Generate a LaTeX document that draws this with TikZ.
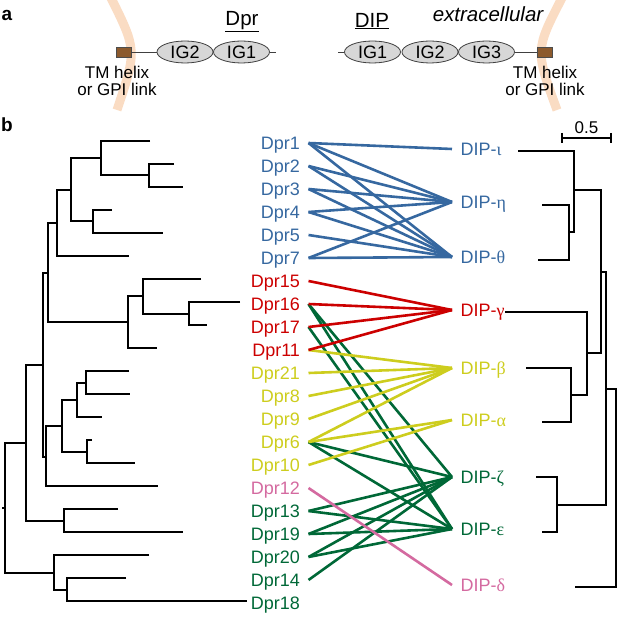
\documentclass[tikz,border=0pt]{standalone}
\usepackage{fontspec}
\setmainfont{Liberation Sans}
\newfontfamily\grk{Liberation Serif}
\usetikzlibrary{shapes.geometric}
\definecolor{cblue}{RGB}{54,104,160}
\definecolor{cred}{RGB}{204,0,0}
\definecolor{cyel}{RGB}{205,205,30}
\definecolor{cpink}{RGB}{212,106,160}
\definecolor{cgreen}{RGB}{0,104,55}
\definecolor{peach}{RGB}{250,220,195}
\definecolor{tmbrown}{RGB}{140,90,45}
\definecolor{iggray}{RGB}{215,215,215}
\begin{document}
\begin{tikzpicture}[x=1pt,y=-1pt,
  lab/.style={font=\fontsize{18}{20}\selectfont, text height=12.9pt, text depth=0pt,
              inner xsep=4.5pt, outer xsep=4pt, inner ysep=0pt, outer ysep=0pt},
  dprlab/.style={lab, anchor=east},
  diplab/.style={lab, anchor=west},
  conn/.style={line width=2.6pt},
  tree/.style={line width=2pt},
  igell/.style={ellipse, draw=black!75, line width=0.8pt, fill=iggray, minimum width=56pt,
                minimum height=22pt, inner sep=0pt, font=\fontsize{18}{20}\selectfont},
  tmbox/.style={draw=black!70, line width=0.8pt, fill=tmbrown, minimum width=15pt, minimum height=10pt, inner sep=0pt},
  small/.style={font=\fontsize{17}{17}\selectfont, inner sep=0pt, align=center},
  title/.style={font=\fontsize{20.5}{22}\selectfont, inner sep=0pt},
  panel/.style={font=\fontsize{19}{20}\selectfont\bfseries, inner sep=0pt}
]
\useasboundingbox (0,0) rectangle (617,617);

% ---------------- panel a ----------------
\node[panel] (pa) at (7,15) {a};
\draw[peach, line width=9pt] (110,-4) .. controls (137,50) .. (117,110);
\draw[peach, line width=9pt] (563,-4) .. controls (535,50) .. (557,110);

\node[tmbox] (tm1) at (123.5,52) {};
\node[igell] (lig2) at (185,52) {IG2};
\node[igell] (lig1) at (241.5,52) {IG1};
\coordinate (le) at (276,52);
\draw[line width=0.9pt, black!75] (tm1) -- (lig2);
\draw[line width=0.9pt, black!75] (lig1) -- (le);
\node[title] (tdpr) at (242,22) {\underline{Dpr}};
\node[small] (tml1) at (117,72) {TM helix};
\node[small] (tml2) at (117,89) {or GPI link};

\node[igell] (rig1) at (372.5,52) {IG1};
\node[igell] (rig2) at (430,52) {IG2};
\node[igell] (rig3) at (486.5,52) {IG3};
\node[tmbox] (tm2) at (545,52) {};
\coordinate (re) at (338,52);
\draw[line width=0.9pt, black!75] (re) -- (rig1);
\draw[line width=0.9pt, black!75] (rig3) -- (tm2);
\node[title] (tdip) at (372,21) {\underline{DIP}};
\node[title] (tex) at (488,14) {\itshape extracellular};
\node[small] (tmr1) at (545,72) {TM helix};
\node[small] (tmr2) at (545,89) {or GPI link};

% ---------------- panel b ----------------
\node[panel] (pb) at (7,125) {b};

% Dpr labels
\node[dprlab, text=cblue] (d1)  at (308.5,143) {Dpr1};
\node[dprlab, text=cblue] (d2)  at (308.5,166) {Dpr2};
\node[dprlab, text=cblue] (d3)  at (308.5,189) {Dpr3};
\node[dprlab, text=cblue] (d4)  at (308.5,212) {Dpr4};
\node[dprlab, text=cblue] (d5)  at (308.5,235) {Dpr5};
\node[dprlab, text=cblue] (d7)  at (308.5,258) {Dpr7};
\node[dprlab, text=cred]  (d15) at (308.5,281) {Dpr15};
\node[dprlab, text=cred]  (d16) at (308.5,304) {Dpr16};
\node[dprlab, text=cred]  (d17) at (308.5,327) {Dpr17};
\node[dprlab, text=cred]  (d11) at (308.5,350) {Dpr11};
\node[dprlab, text=cyel]  (d21) at (308.5,373) {Dpr21};
\node[dprlab, text=cyel]  (d8)  at (308.5,396) {Dpr8};
\node[dprlab, text=cyel]  (d9)  at (308.5,419) {Dpr9};
\node[dprlab, text=cyel]  (d6)  at (308.5,442) {Dpr6};
\node[dprlab, text=cyel]  (d10) at (308.5,465) {Dpr10};
\node[dprlab, text=cpink] (d12) at (308.5,488) {Dpr12};
\node[dprlab, text=cgreen] (d13) at (308.5,511) {Dpr13};
\node[dprlab, text=cgreen] (d19) at (308.5,534) {Dpr19};
\node[dprlab, text=cgreen] (d20) at (308.5,557) {Dpr20};
\node[dprlab, text=cgreen] (d14) at (308.5,580) {Dpr14};
\node[dprlab, text=cgreen] (d18) at (308.5,603) {Dpr18};

% DIP labels
\node[diplab, text=cblue]  (iota)  at (452,149) {DIP-{\grk ι}};
\node[diplab, text=cblue]  (eta)   at (452,202) {DIP-{\grk η}};
\node[diplab, text=cblue]  (theta) at (452,257) {DIP-{\grk θ}};
\node[diplab, text=cred]   (gam)   at (452,310) {DIP-{\grk γ}};
\node[diplab, text=cyel]   (bet)   at (452,368) {DIP-{\grk β}};
\node[diplab, text=cyel]   (alp)   at (452,420) {DIP-{\grk α}};
\node[diplab, text=cgreen] (zet)   at (452,477) {DIP-{\grk ζ}};
\node[diplab, text=cgreen] (eps)   at (452,529) {DIP-{\grk ε}};
\node[diplab, text=cpink]  (del)   at (452,585) {DIP-{\grk δ}};

% connectors
\begin{scope}[conn, cgreen]
\draw (d16.east) -- (zet.west);
\draw (d16.east) -- (eps.west);
\draw (d17.east) -- (eps.west);
\draw (d6.east) -- (zet.west);
\draw (d6.east) -- (eps.west);
\draw (d13.east) -- (zet.west);
\draw (d13.east) -- (eps.west);
\draw (d19.east) -- (zet.west);
\draw (d19.east) -- (eps.west);
\draw (d20.east) -- (zet.west);
\draw (d20.east) -- (eps.west);
\draw (d14.east) -- (zet.west);
\end{scope}
\begin{scope}[conn, cyel]
\draw (d11.east) -- (bet.west);
\draw (d21.east) -- (bet.west);
\draw (d8.east) -- (bet.west);
\draw (d9.east) -- (bet.west);
\draw (d6.east) -- (bet.west);
\draw (d6.east) -- (alp.west);
\draw (d10.east) -- (alp.west);
\end{scope}
\begin{scope}[conn, cred]
\draw (d15.east) -- (gam.west);
\draw (d16.east) -- (gam.west);
\draw (d17.east) -- (gam.west);
\draw (d11.east) -- (gam.west);
\end{scope}
\begin{scope}[conn, cblue]
\draw (d1.east) -- (iota.west);
\draw (d1.east) -- (eta.west);
\draw (d1.east) -- (theta.west);
\draw (d2.east) -- (eta.west);
\draw (d2.east) -- (theta.west);
\draw (d3.east) -- (eta.west);
\draw (d3.east) -- (theta.west);
\draw (d4.east) -- (eta.west);
\draw (d4.east) -- (theta.west);
\draw (d5.east) -- (theta.west);
\draw (d7.east) -- (eta.west);
\draw (d7.east) -- (theta.west);
\end{scope}
\draw[conn, cpink] (d12.east) -- (del.west);

% left tree
\begin{scope}[tree]
\draw (150,141) -- (101,141) -- (101,175.5) -- (149,175.5);
\draw (174,164) -- (149,164) -- (149,187) -- (183,187);
\draw (101,158) -- (71,158) -- (71,221.5) -- (93,221.5);
\draw (112,210) -- (93,210) -- (93,233) -- (163,233);
\draw (71,190) -- (57,190) -- (57,256) -- (129,256);
\draw (240,302) -- (189,302) -- (189,325) -- (207,325);
\draw (201,279) -- (143,279) -- (143,313.5) -- (189,313.5);
\draw (143,296) -- (128,296) -- (128,348) -- (157,348);
\draw (57,223) -- (48,223) -- (48,322) -- (128,322);
\draw (48,272.5) -- (43,272.5) -- (43,457) -- (46,457);
\draw (129,371) -- (86,371) -- (86,394) -- (130,394);
\draw (86,382.5) -- (77,382.5) -- (77,417) -- (102,417);
\draw (92,440) -- (87,440) -- (87,463) -- (135,463);
\draw (77,400) -- (62,400) -- (62,451.5) -- (87,451.5);
\draw (62,426) -- (46,426) -- (46,486) -- (158,486);
\draw (43,365) -- (26,365) -- (26,520.5) -- (64,520.5);
\draw (118,509) -- (64,509) -- (64,532) -- (183,532);
\draw (26,443) -- (5,443) -- (5,573) -- (54,573);
\draw (149,555) -- (54,555) -- (54,590) -- (67,590);
\draw (126,578) -- (67,578) -- (67,601) -- (247,601);
\draw (5,508) -- (2,508);
\end{scope}

% right tree
\begin{scope}[tree]
\draw (518,151) -- (574,151) -- (574,232) -- (569,232);
\draw (542,205) -- (569,205) -- (569,260) -- (538,260);
\draw (574,190) -- (601,190) -- (601,353) -- (587,353);
\draw (505,312) -- (587,312) -- (587,395) -- (571,395);
\draw (526,368) -- (571,368) -- (571,422) -- (542,422);
\draw (601,272) -- (606,272) -- (606,505) -- (557,505);
\draw (536,477) -- (557,477) -- (557,532) -- (542,532);
\draw (606,389) -- (616,389) -- (616,587) -- (575,587);
\draw (616,488) -- (621,488);
\end{scope}

% scale bar
\draw[line width=1.6pt] (562,138) -- (611,138);
\draw[line width=1.6pt] (562,133) -- (562,143);
\draw[line width=1.6pt] (611,133) -- (611,143);
\node[small] (sbl) at (586.5,128) {0.5};
\end{tikzpicture}
\end{document}
